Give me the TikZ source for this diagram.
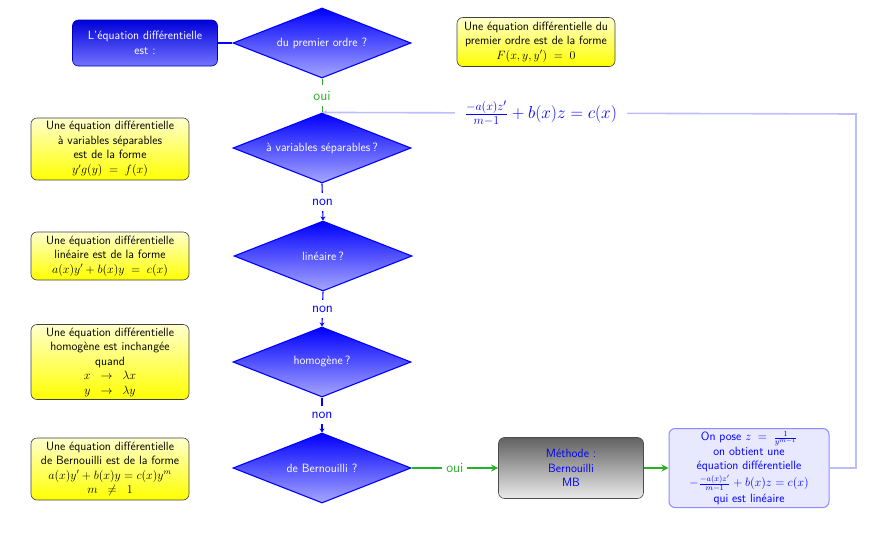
\documentclass[tikz,border=0pt]{standalone}
\usepackage{fontspec}
\renewcommand{\familydefault}{\sfdefault}
\usetikzlibrary{shapes.geometric,arrows.meta}
\definecolor{ogreen}{RGB}{40,175,40}
\definecolor{lblue}{RGB}{190,190,255}
\begin{document}
\begin{tikzpicture}[x=1pt,y=-1pt,
  txt/.style={font=\fontsize{12}{14.5}\selectfont},
  dia/.style={diamond, draw=blue, line width=1.1pt, top color=blue, bottom color=blue!35,
    text=white, minimum width=178pt, minimum height=70pt, aspect=2.5, inner sep=0pt,
    font=\fontsize{12}{13}\selectfont},
  startbox/.style={rectangle, rounded corners=6pt, draw=blue!70!black, line width=0.6pt,
    top color=blue!85!black, bottom color=blue!55, text=white, minimum width=145pt,
    minimum height=46pt, align=center, txt},
  ybox/.style={rectangle, rounded corners=6pt, draw=black!75, line width=0.6pt,
    top color=yellow!20, bottom color=yellow, minimum width=158pt, align=center,
    inner sep=1.5pt, txt},
  gbox/.style={rectangle, rounded corners=6pt, draw=black!70, line width=0.6pt,
    top color=black!62, bottom color=black!8, text=blue, minimum width=145pt,
    minimum height=61pt, align=center, txt},
  lbox/.style={rectangle, rounded corners=6pt, draw=blue!45, line width=1pt,
    fill=blue!9, text=blue, minimum width=160pt, minimum height=79pt, align=center,
    inner sep=1pt, font=\fontsize{12}{14}\selectfont},
  lab/.style={fill=white, inner xsep=4pt, inner ysep=6pt, font=\fontsize{14}{16}\selectfont},
  bline/.style={draw=blue, line width=1.1pt},
  gline/.style={draw=ogreen, line width=1pt},
  gthick/.style={draw=ogreen, line width=2pt, -{Stealth[length=7pt,width=7pt]}},
  lline/.style={draw=lblue, line width=1.6pt, -{Stealth[length=5pt,width=5pt]}}
]
\useasboundingbox (0,0) rectangle (878,541);

\node[startbox] (s) at (145,43) {L'équation différentielle\\est :};
\node[dia] (d1) at (322,43) {du premier ordre ?};
\node[ybox, minimum height=49pt] (y0) at (536,42)
  {Une équation différentielle du\\premier ordre est de la forme\\$F(x,y,y')\;=\;0$};

\node[dia] (d2) at (322,148) {à variables séparables\,?};
\node[ybox, minimum height=62pt] (y1) at (110,149)
  {Une équation différentielle\\à variables séparables\\est de la forme\\$y'g(y)\;=\;f(x)$};

\node[dia] (d3) at (323,256) {linéaire\,?};
\node[ybox, minimum height=48pt] (y2) at (110,256)
  {Une équation différentielle\\linéaire est de la forme\\$a(x)y'+b(x)y\;=\;c(x)$};

\node[dia] (d4) at (322,362) {homogène\,?};
\node[ybox, minimum height=75pt] (y3) at (110,362)
  {Une équation différentielle\\homogène est inchangée\\quand\\$x\;\;\rightarrow\;\;\lambda x$\\$y\;\;\rightarrow\;\;\lambda y$};

\node[dia] (d5) at (322,468) {de Bernouilli ?};
\node[ybox, minimum height=62pt] (y4) at (110,469)
  {Une équation différentielle\\de Bernouilli est de la forme\\$a(x)y'+b(x)y=c(x)y^m$\\$m\;\;\neq\;\;1$};

\node[gbox] (g) at (571,468) {Méthode :\\Bernouilli\\MB};
\node[lbox] (l) at (749,468)
  {On pose $z\;=\;\frac{1}{y^{m-1}}$\\on obtient une\\équation différentielle\\[2pt]$-\frac{-a(x)z'}{m-1}+b(x)z=c(x)$\\[2pt]qui est linéaire};

\coordinate (turn) at (856,114);

\draw[bline] (s) -- (d1);
\draw[gline] (d1.south) -- node[lab, text=ogreen] {oui} (d2.north);
\draw[bline, -{Stealth[length=4pt,width=5pt]}] (d2.south) -- node[lab, text=blue] {non} (d3.north);
\draw[bline, -{Stealth[length=4pt,width=5pt]}] (d3.south) -- node[lab, text=blue] {non} (d4.north);
\draw[bline, -{Stealth[length=4pt,width=5pt]}] (d4.south) -- node[lab, text=blue] {non} (d5.north);
\draw[gthick] (d5.east) -- node[lab, text=ogreen] {oui} (g.west);
\draw[gthick] (g.east) -- (l.west);
\draw[lline] (l.east) -| (turn) -- node[pos=0.59, fill=white, text=blue, inner xsep=10pt, inner ysep=2pt, font=\LARGE]
  {$\frac{-a(x)z'}{m-1}+b(x)z=c(x)$} (d2.north);
\end{tikzpicture}
\end{document}
